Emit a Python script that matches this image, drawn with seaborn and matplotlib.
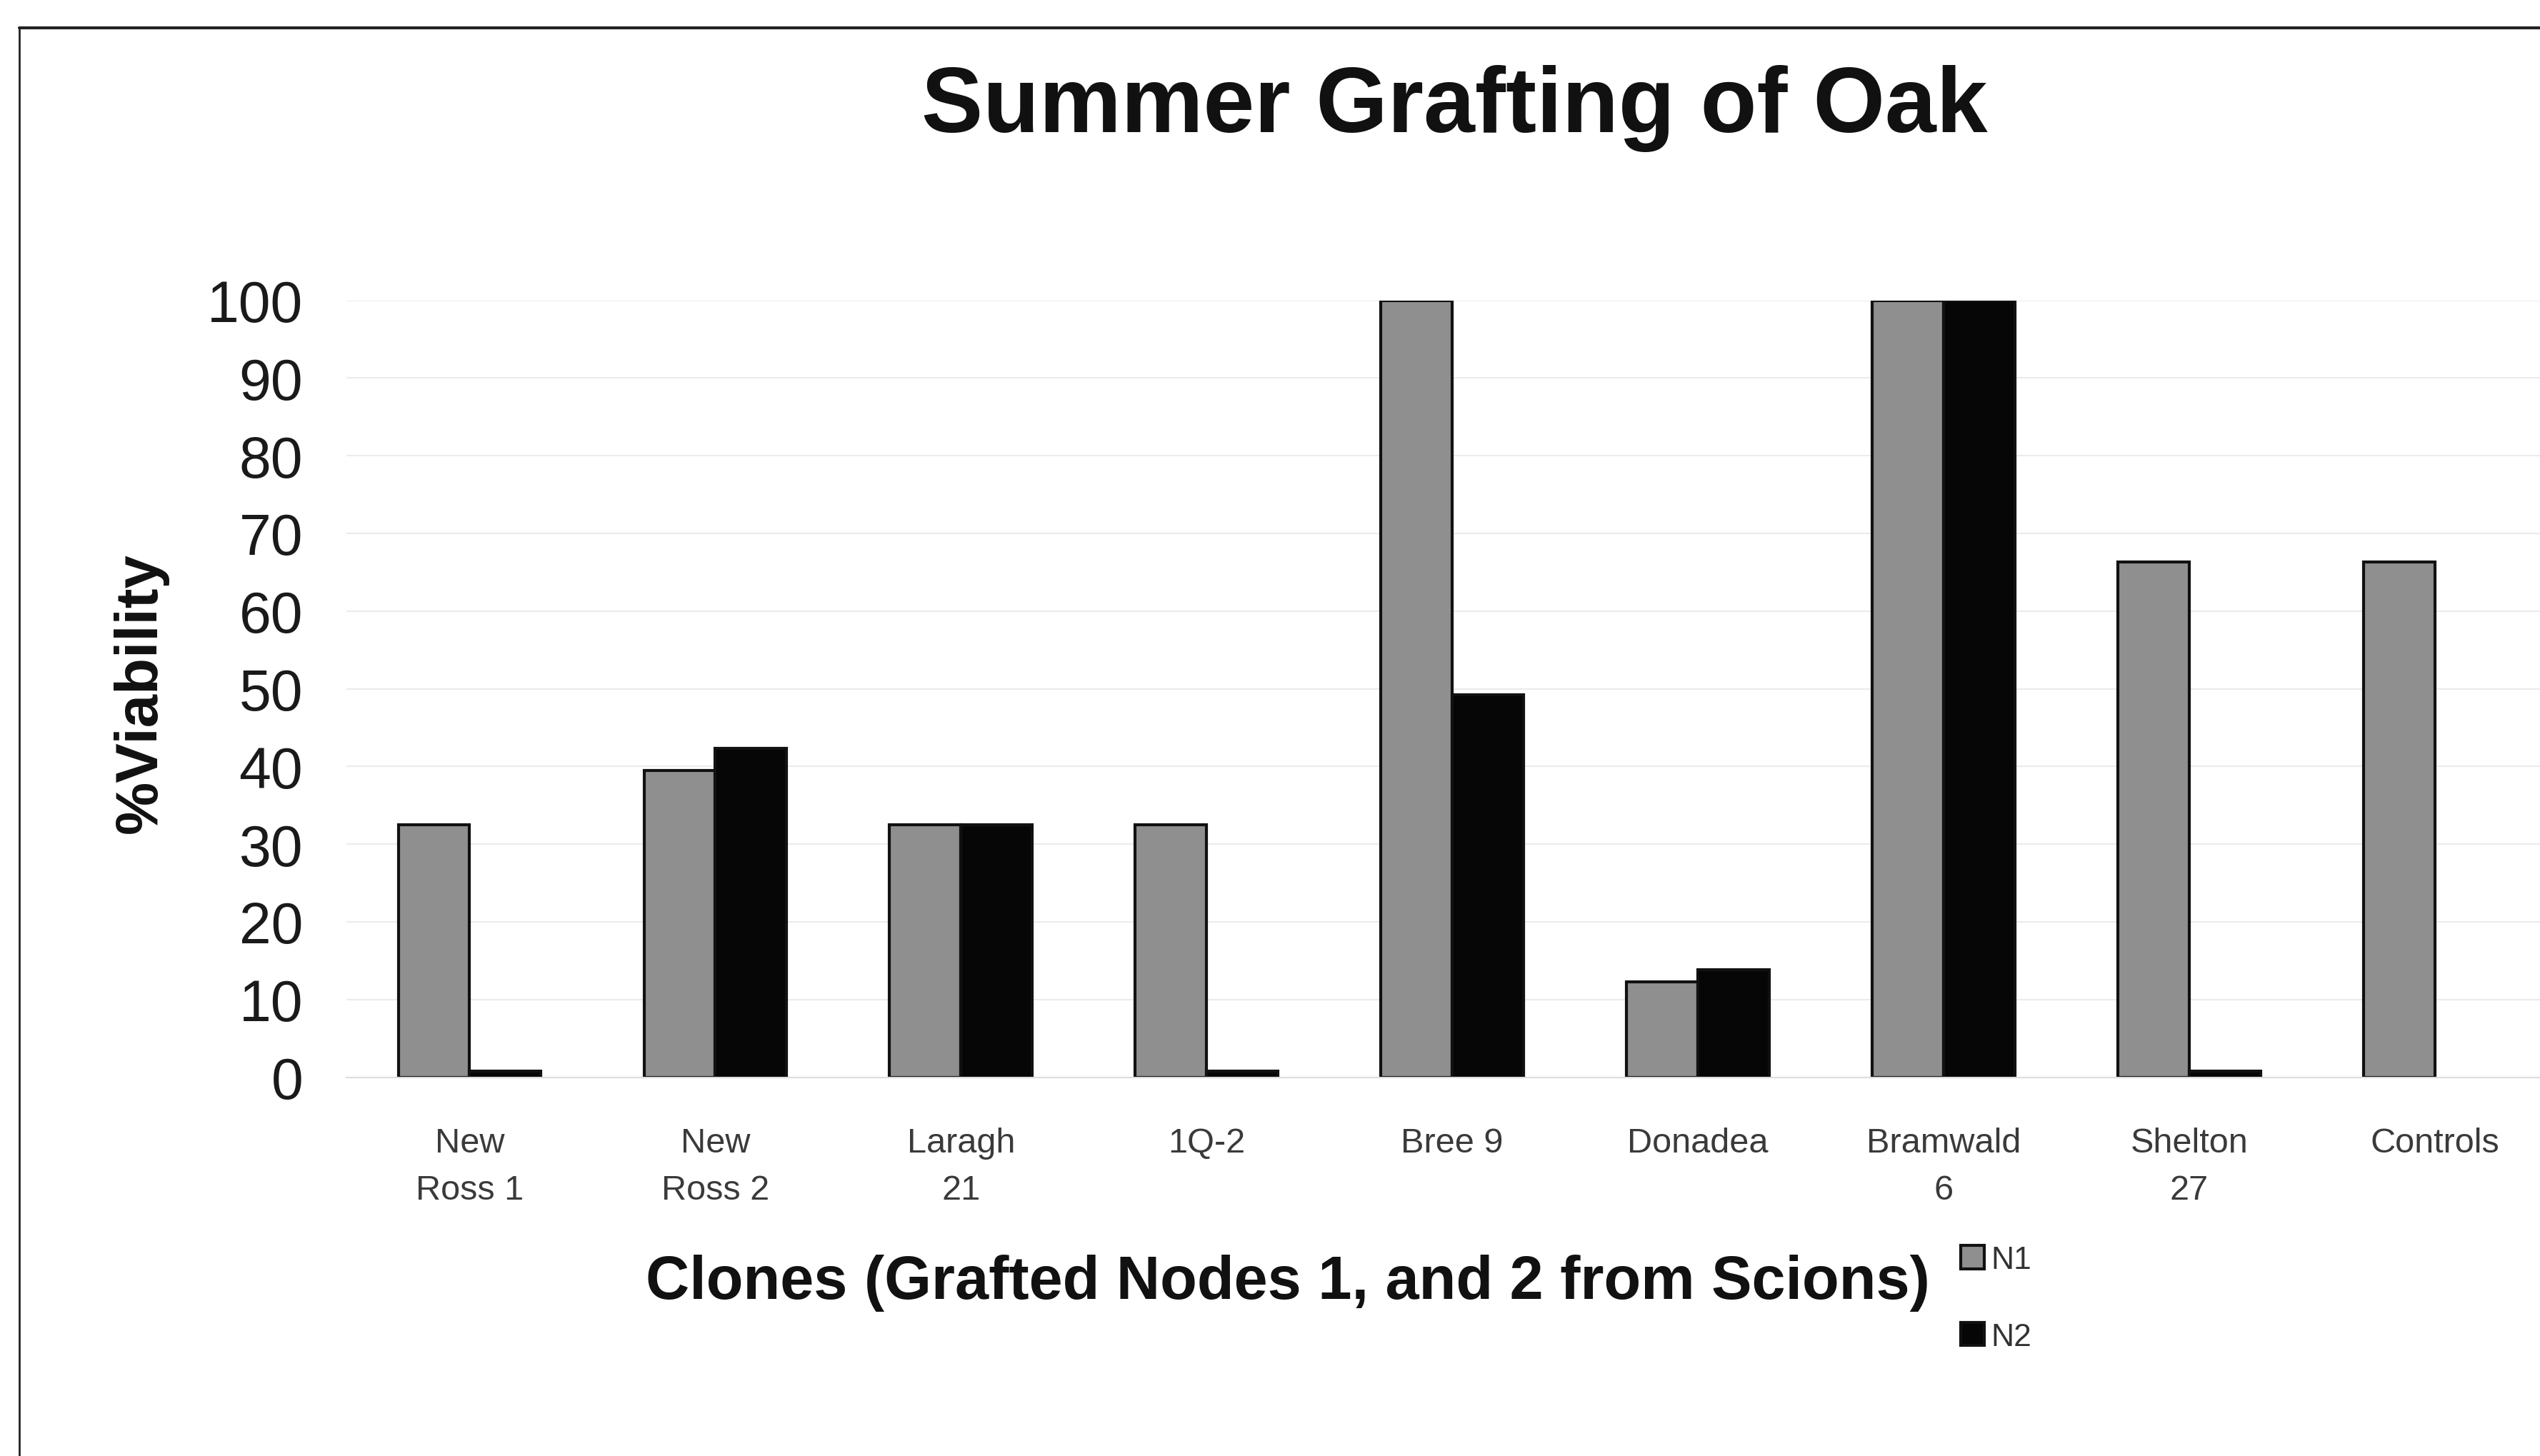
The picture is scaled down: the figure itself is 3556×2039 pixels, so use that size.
import matplotlib
matplotlib.use("Agg")
import matplotlib.pyplot as plt
from matplotlib.lines import Line2D
import seaborn as sns
import pandas as pd
import numpy as np

clones = ["New\nRoss 1", "New\nRoss 2", "Laragh\n21", "1Q-2", "Bree 9",
          "Donadea", "Bramwald\n6", "Shelton\n27", "Controls"]
n1_values = [32.5, 39.5, 32.5, 32.5, 100.0, 12.3, 100.0, 66.3, 66.3]
n2_values = [0.8, 42.3, 32.5, 0.8, 49.2, 13.8, 100.0, 0.8, np.nan]
series_names = ["N1", "N2"]
y_ticks = [0, 10, 20, 30, 40, 50, 60, 70, 80, 90, 100]

df = pd.DataFrame({
    "clone": clones * 2,
    "series": [series_names[0]] * len(clones) + [series_names[1]] * len(clones),
    "value": n1_values + n2_values,
})

sns.set_theme(style="white")
plt.rcParams['font.family'] = ['Liberation Sans', 'DejaVu Sans']

W, H = 1568.0, 900.0
fig = plt.figure(figsize=(35.56, 20.40), dpi=100)
fig.patch.set_facecolor("white")
ax = fig.add_axes([214 / W, 1 - 666 / H, (1579 - 214) / W, (666 - 186) / H])

sns.barplot(data=df, x="clone", y="value", hue="series", order=clones,
            hue_order=series_names,
            palette={"N1": "#8f8f8f", "N2": "#060606"},
            width=0.58, edgecolor="#111111", linewidth=3, errorbar=None,
            saturation=1, ax=ax)

ax.set_xlim(-0.5, len(clones) - 0.5)
ax.set_ylim(0, 100)
ax.set_yticks(y_ticks)
ax.set_yticklabels([str(v) for v in y_ticks])
ax.yaxis.grid(True, color="#ebebeb", linewidth=1.5)
ax.xaxis.grid(False)
ax.set_axisbelow(True)
for s in ["top", "right", "left"]:
    ax.spines[s].set_visible(False)
ax.spines["bottom"].set_color("#dddddd")
ax.spines["bottom"].set_linewidth(1.5)

ax.tick_params(axis="y", labelsize=58, labelcolor="#1a1a1a", pad=44, length=0)
ax.tick_params(axis="x", labelsize=35, labelcolor="#3a3a3a", pad=50, length=0)
for lbl in ax.get_xticklabels():
    lbl.set_linespacing(1.6)

ax.set_xlabel("Clones (Grafted Nodes 1, and 2 from Scions)", fontsize=61,
              fontweight="bold", color="#111111")
ax.xaxis.set_label_coords((795 - 214) / (1579 - 214), (666 - 775) / 480.0)
ax.set_ylabel("%Viability", fontsize=60, fontweight="bold", color="#111111")
ax.yaxis.set_label_coords((104 - 214) / (1579 - 214), (666 - 428) / 480.0)

fig.text(898 / W, 1 - 67 / H, "Summer Grafting of Oak", fontsize=93,
         fontweight="bold", ha="center", va="center", color="#111111")

sns.move_legend(ax, "upper left", bbox_to_anchor=(2745 / 3556, 1 - 1745 / 2040),
                bbox_transform=fig.transFigure, frameon=False, title=None,
                fontsize=32, handlelength=0.75, handleheight=0.75,
                labelspacing=1.5, handletextpad=0.2, borderpad=0,
                borderaxespad=0)
for t in ax.get_legend().get_texts():
    t.set_color("#333333")

# scanned page frame lines
fig.add_artist(Line2D([27 / 3556, 1.0], [1 - 40 / 2040, 1 - 40 / 2040],
                      transform=fig.transFigure, color="#222222", linewidth=3))
fig.add_artist(Line2D([27 / 3556, 27 / 3556], [0.0, 1 - 40 / 2040],
                      transform=fig.transFigure, color="#222222", linewidth=2))

fig.savefig("out.png", dpi=100, facecolor="white")
